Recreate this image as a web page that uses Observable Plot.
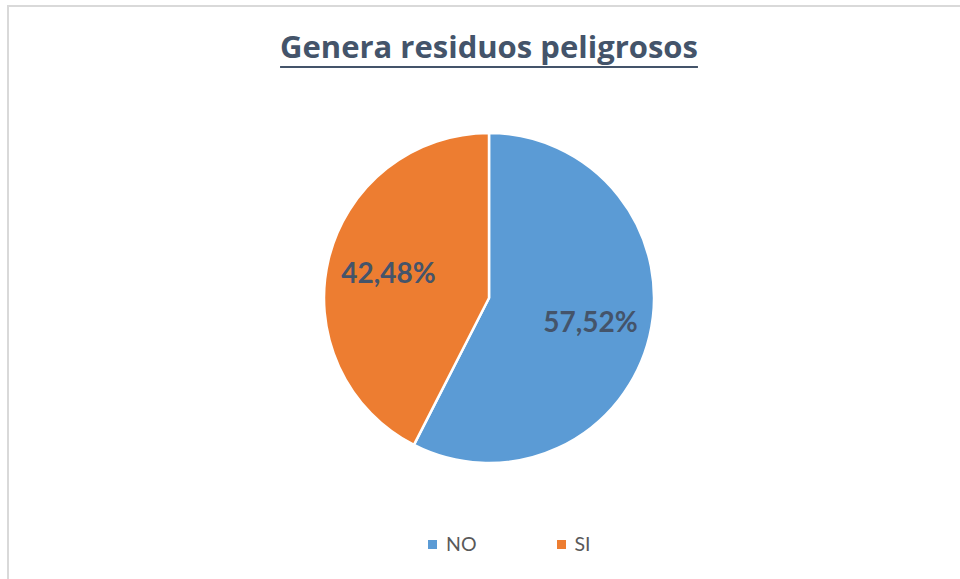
<!DOCTYPE html>
<html><head><meta charset="utf-8">
<script src="https://cdn.jsdelivr.net/npm/d3@7"></script>
<script src="https://cdn.jsdelivr.net/npm/@observablehq/plot@0.6"></script>
<style>
body{margin:0;background:#fff;}
#wrap{position:relative;width:960px;height:579px;overflow:hidden;font-family:Lato,"Open Sans",sans-serif;background:#fff;}
#frame{position:absolute;left:7px;top:5px;width:1000px;height:1000px;border:2px solid #d9d9d9;box-sizing:border-box;}
#title{position:absolute;top:28px;left:0;width:978px;text-align:center;font-family:"Open Sans",sans-serif;font-size:31px;line-height:1.2;font-weight:bold;color:#44546a;text-decoration:underline;text-decoration-thickness:2px;text-underline-offset:8px;}
#chart{position:absolute;left:0;top:90px;}
#legend{position:absolute;left:428px;top:532px;display:flex;gap:80px;font-size:19.5px;line-height:1.2;color:#595959;}
#legend .item{display:flex;align-items:center;}
#legend .sw{width:9px;height:9px;margin-right:9px;margin-top:1px;}
</style>
</head><body>
<div id="wrap">
  <div id="frame"></div>
  <div id="title">Genera residuos peligrosos</div>
  <div id="chart"></div>
  <div id="legend"></div>
</div>
<script>
const title = "Genera residuos peligrosos";
const categories = ["NO", "SI"];
const values = [57.52, 42.48];
const colors = ["#5b9bd5", "#ed7d31"];

const data = categories.map((c, i) => ({cat: c, value: values[i]}));
const colorScale = Plot.scale({color: {type: "ordinal", domain: categories, range: colors}});

const arcs = d3.pie().sort(null).value(d => d.value)(data);
const labelR = 0.63;
const labels = arcs.map(a => {
  const m = (a.startAngle + a.endAngle) / 2;
  return {x: Math.sin(m) * labelR, y: Math.cos(m) * labelR,
          text: a.data.value.toFixed(2).replace(".", ",") + "%"};
});

const cx = 489, cy = 208, R = 165;

const pieMark = (index, scales) => {
  const x0 = scales.x(0), y0 = scales.y(0), r = scales.x(1) - scales.x(0);
  const g = d3.create("svg:g").attr("transform", `translate(${x0},${y0})`);
  const arc = d3.arc().innerRadius(0).outerRadius(r);
  g.selectAll("path").data(arcs).join("path")
    .attr("d", arc)
    .attr("fill", d => colorScale.apply(d.data.cat))
    .attr("stroke", "#fff")
    .attr("stroke-width", 2.5)
    .attr("stroke-linejoin", "round");
  return g.node();
};

const plot = Plot.plot({
  width: 960,
  height: 420,
  margin: 0,
  x: {domain: [-1, 1], range: [cx - R, cx + R], axis: null},
  y: {domain: [-1, 1], range: [cy + R, cy - R], axis: null},
  style: {background: "transparent", overflow: "visible"},
  marks: [
    pieMark,
    Plot.text(labels, {x: "x", y: "y", text: "text", fill: "#44546a",
      fontSize: 28, fontWeight: "bold", fontFamily: "Lato, 'Open Sans', sans-serif"})
  ]
});
document.getElementById("chart").appendChild(plot);
document.getElementById("title").textContent = title;

const legend = document.getElementById("legend");
categories.forEach((c, i) => {
  const it = document.createElement("div");
  it.className = "item";
  const sw = document.createElement("div");
  sw.className = "sw";
  sw.style.background = colorScale.apply(c);
  const t = document.createElement("span");
  t.textContent = c;
  it.appendChild(sw); it.appendChild(t);
  legend.appendChild(it);
});
</script>
</body></html>
